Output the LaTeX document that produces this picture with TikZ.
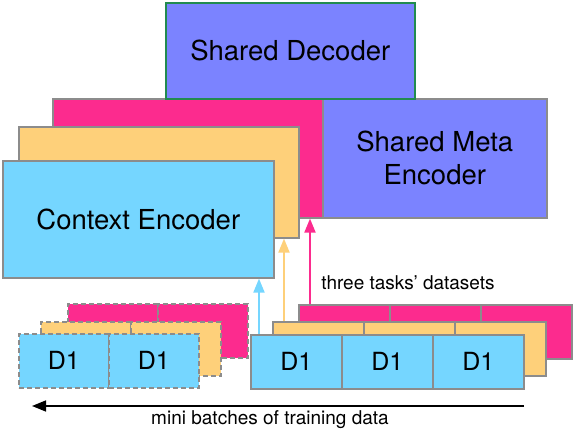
\documentclass[tikz,border=0pt]{standalone}
\usepackage{fontspec}
\setmainfont{TeX Gyre Heros}
\usetikzlibrary{arrows.meta}

\definecolor{ctxblue}{RGB}{117,214,255}
\definecolor{taskorange}{RGB}{254,208,122}
\definecolor{taskpink}{RGB}{252,43,142}
\definecolor{sharedpurple}{RGB}{123,131,255}
\definecolor{edgegray}{RGB}{140,140,140}
\definecolor{decgreen}{RGB}{34,139,80}

\tikzset{
  encbox/.style={draw=edgegray, line width=1.6pt, anchor=north west, inner sep=0pt,
    align=center, font=\fontsize{27.5}{33}\selectfont},
  cellbox/.style={draw=edgegray, line width=1.6pt, anchor=north west, inner sep=0pt,
    minimum width=91pt, minimum height=54pt, font=\fontsize{25}{30}\selectfont},
  usedcell/.style={cellbox, minimum width=90pt, dash pattern=on 5pt off 3pt},
  feed/.style={line width=2pt, -{Triangle[length=14pt,width=11pt]}},
  note/.style={font=\fontsize{19}{23}\selectfont}
}

\begin{document}
\begin{tikzpicture}[x=1pt,y=-1pt]
\useasboundingbox (0,0) rectangle (574,430);

% task encoders, back to front
\node[encbox, fill=taskpink, minimum width=270pt, minimum height=119pt] (encpink) at (52,98) {};
\node[encbox, fill=sharedpurple, minimum width=224pt, minimum height=119pt] (metaenc) at (322,98) {Shared Meta\\Encoder};
\node[encbox, fill=taskorange, minimum width=280pt, minimum height=111pt] (encorange) at (18,126) {};
\node[encbox, fill=ctxblue, minimum width=271pt, minimum height=117pt] (ctxenc) at (2,160) {Context Encoder};
\node[encbox, draw=decgreen, fill=sharedpurple, minimum width=249pt, minimum height=96pt] (decoder) at (165,2) {Shared Decoder};

% mini batches already seen (dashed)
\foreach \i in {0,1} {
  \node[usedcell, fill=taskpink] (oldpink\i) at (67+90*\i,303) {};
}
\foreach \i in {0,1} {
  \node[usedcell, fill=taskorange] (oldorange\i) at (40+90*\i,321) {};
}
\foreach \i in {0,1} {
  \node[usedcell, fill=ctxblue] (oldblue\i) at (18+90*\i,333) {D1};
}

% current mini batches of the three tasks
\node[cellbox, fill=taskpink] (pink0) at (298,304) {};
\node[cellbox, fill=taskpink] (pink1) at (389,304) {};
\node[cellbox, fill=taskpink] (pink2) at (480,304) {\raisebox{-2pt}{D1}};
\foreach \i in {0,1,2} {
  \node[cellbox, fill=taskorange] (orange\i) at (272+91*\i,321) {};
}
\foreach \i in {0,1,2} {
  \node[cellbox, fill=ctxblue] (blue\i) at (250+91*\i,334) {D1};
}

% data into the encoders
\draw[feed, draw=ctxblue, fill=ctxblue] ([xshift=9pt]blue0.north west) -- ([xshift=9pt]blue0.north west |- ctxenc.south);
\draw[feed, draw=taskorange, fill=taskorange] ([xshift=12pt]orange0.north west) -- ([xshift=12pt]orange0.north west |- encorange.south);
\draw[feed, draw=taskpink, fill=taskpink] ([xshift=12pt]pink0.north west) -- ([xshift=12pt]pink0.north west |- encpink.south);

\node[note] (tasklabel) at (408,283) {three tasks’ datasets};

% time direction
\coordinate (batchstart) at (524,406);
\coordinate (batchend) at (32,406);
\draw[line width=1.5pt, -{Triangle[length=14pt,width=11pt]}] (batchstart) -- (batchend);
\node[note] (batchlabel) at (270,420) {mini batches of training data};

\end{tikzpicture}
\end{document}
